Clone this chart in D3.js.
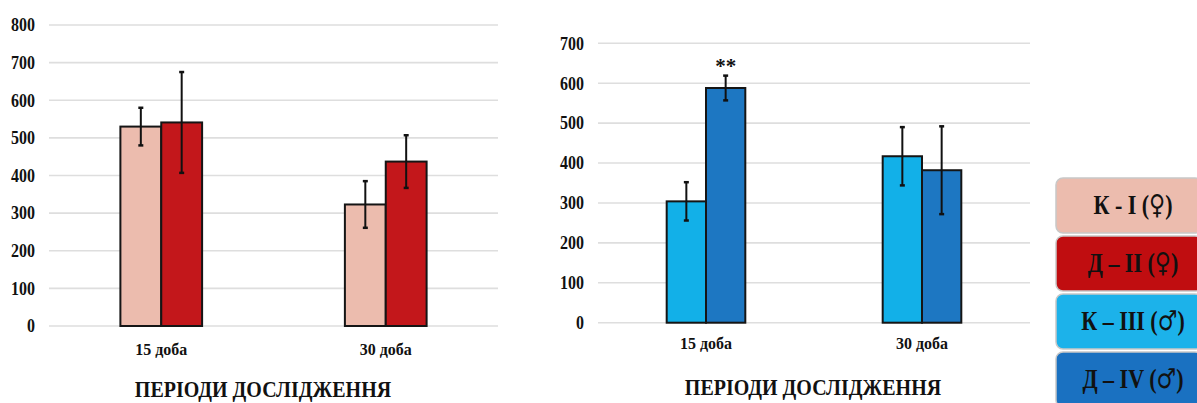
<!DOCTYPE html>
<html>
<head>
<meta charset="utf-8">
<script src="https://cdn.jsdelivr.net/npm/d3@7"></script>
<style>
  html, body { margin: 0; padding: 0; background: #ffffff; }
  svg { display: block; }
  svg text { font-family: "Liberation Serif", "Tinos", "Times New Roman", "DejaVu Serif", serif; font-weight: 700; fill: #111; }
  svg text tspan.sym { font-family: "DejaVu Sans", sans-serif; font-weight: 400; }
</style>
</head>
<body>
<svg id="chart" width="1197" height="403"></svg>
<script>
// Study periods
const categories = ["15 доба", "30 доба"];
const axisTitle = "ПЕРІОДИ ДОСЛІДЖЕННЯ";

// Female groups (means and error half-widths per period)
const kIMeans = [530, 323];
const kIErrors = [50, 62];
const dIIMeans = [541, 437];
const dIIErrors = [134, 70];

// Male groups
const kIIIMeans = [304, 417];
const kIIIErrors = [48, 73];
const dIVMeans = [588, 382];
const dIVErrors = [31, 110];

// Axis ticks
const leftTicks = [0, 100, 200, 300, 400, 500, 600, 700, 800];
const rightTicks = [0, 100, 200, 300, 400, 500, 600, 700];

// Legend entries: group label and sex symbol
const legendLabels = ["К - I", "Д – II", "К – III", "Д – IV"];
const legendSymbols = ["♀", "♀", "♂", "♂"];
const legendColors = ["#ecbcae", "#c00d10", "#1cb2ea", "#1a71c1"];

// Significance marks: series index within a panel, category index, text
const maleMarks = [{ series: 1, cat: 0, text: "**" }];

const svg = d3.select("#chart");

// place a text at (x, y) with a slight vertical stretch of the glyphs
function place(sel, x, y, sy) {
  sel.attr("transform", d => {
    const px = typeof x === "function" ? x(d) : x;
    const py = typeof y === "function" ? y(d) : y;
    return `translate(${px},${py}) scale(1,${sy})`;
  });
}

function drawPanel(opts) {
  const { x0, x1, yTop, yBottom, ticks, series, colors, marks, labelY, titleX, titleY } = opts;
  const g = svg.append("g");
  const maxTick = ticks[ticks.length - 1];

  const y = d3.scaleLinear().domain([0, maxTick]).range([yBottom, yTop]);
  const xCat = d3.scaleBand().domain(categories).range([x0, x1]).padding(0);
  const groupW = xCat.bandwidth() * 0.364;
  const xSer = d3.scaleBand().domain(d3.range(series.length)).range([0, groupW]).padding(0);

  // gridlines
  g.append("g").selectAll("line").data(ticks).join("line")
    .attr("x1", x0).attr("x2", x1)
    .attr("y1", d => y(d)).attr("y2", d => y(d))
    .attr("stroke", "#dedede").attr("stroke-width", 1.6);

  // y axis labels
  const yAxis = d3.axisLeft(y).tickValues(ticks).tickSize(0).tickPadding(0);
  const ax = g.append("g").attr("transform", `translate(${x0 - 14},0)`).call(yAxis);
  ax.attr("font-family", null).attr("font-size", null);
  ax.select(".domain").remove();
  ax.selectAll("text")
    .attr("font-size", 16).attr("fill", "#111")
    .attr("x", null).attr("dy", null)
    .attr("dominant-baseline", "central")
    .attr("transform", "scale(1,1.12)");

  // bars
  const rows = [];
  categories.forEach((c, ci) => {
    series.forEach((s, si) => {
      rows.push({ c, ci, si, v: s.means[ci], e: s.errors[ci] });
    });
  });
  const groupX = c => xCat(c) + (xCat.bandwidth() - groupW) / 2;

  g.append("g").selectAll("rect").data(rows).join("rect")
    .attr("x", d => groupX(d.c) + xSer(d.si))
    .attr("y", d => y(d.v))
    .attr("width", xSer.bandwidth())
    .attr("height", d => y(0) - y(d.v))
    .attr("fill", d => colors[d.si])
    .attr("stroke", "#151515").attr("stroke-width", 2);

  // error bars
  const eb = g.append("g").selectAll("g").data(rows).join("g")
    .attr("transform", d => `translate(${groupX(d.c) + xSer(d.si) + xSer.bandwidth() / 2},0)`);
  eb.append("line")
    .attr("y1", d => y(d.v + d.e)).attr("y2", d => y(d.v - d.e))
    .attr("stroke", "#111").attr("stroke-width", 2);
  eb.append("line")
    .attr("x1", -2.5).attr("x2", 2.5)
    .attr("y1", d => y(d.v + d.e)).attr("y2", d => y(d.v + d.e))
    .attr("stroke", "#111").attr("stroke-width", 2.5);
  eb.append("line")
    .attr("x1", -2.5).attr("x2", 2.5)
    .attr("y1", d => y(d.v - d.e)).attr("y2", d => y(d.v - d.e))
    .attr("stroke", "#111").attr("stroke-width", 2.5);

  // significance marks
  g.append("g").selectAll("text").data(marks).join("text")
    .attr("x", d => groupX(categories[d.cat]) + xSer(d.series) + xSer.bandwidth() / 2)
    .attr("y", d => y(series[d.series].means[d.cat] + series[d.series].errors[d.cat]) - 3)
    .attr("text-anchor", "middle")
    .attr("font-size", 21)
    .text(d => d.text);

  // category labels
  g.append("g").selectAll("text").data(categories).join("text")
    .attr("text-anchor", "middle")
    .attr("font-size", 16)
    .text(c => c)
    .call(place, c => xCat(c) + xCat.bandwidth() / 2, labelY, 1.1);

  // axis title
  g.append("text")
    .attr("text-anchor", "middle")
    .attr("font-size", 20)
    .text(axisTitle)
    .call(place, titleX, titleY, 1.15);
}

drawPanel({
  x0: 49, x1: 498, yTop: 25, yBottom: 326,
  ticks: leftTicks,
  series: [{ means: kIMeans, errors: kIErrors }, { means: dIIMeans, errors: dIIErrors }],
  colors: ["#ecbcae", "#c3171b"],
  marks: [],
  labelY: 355, titleX: 263, titleY: 397
});

drawPanel({
  x0: 598, x1: 1030, yTop: 43.3, yBottom: 322.7,
  ticks: rightTicks,
  series: [{ means: kIIIMeans, errors: kIIIErrors }, { means: dIVMeans, errors: dIVErrors }],
  colors: ["#12b0e8", "#1d77c2"],
  marks: maleMarks,
  labelY: 349, titleX: 813, titleY: 395
});

// legend boxes
const legend = svg.append("g");
const lg = legend.selectAll("g").data(legendLabels).join("g")
  .attr("transform", (d, i) => `translate(1056,${178 + i * 58})`);
lg.append("rect")
  .attr("width", 146).attr("height", 55).attr("rx", 7)
  .attr("fill", (d, i) => legendColors[i])
  .attr("stroke", "#c8c8c8").attr("stroke-width", 1.5);
const lt = lg.append("text")
  .attr("text-anchor", "middle")
  .attr("font-size", 22)
  .attr("fill", "#111")
  .call(place, 77, 36, 1.25);
lt.append("tspan").text(d => d + " (");
lt.append("tspan").attr("class", "sym").attr("font-size", 22).text((d, i) => legendSymbols[i]);
lt.append("tspan").text(")");
</script>
</body>
</html>
